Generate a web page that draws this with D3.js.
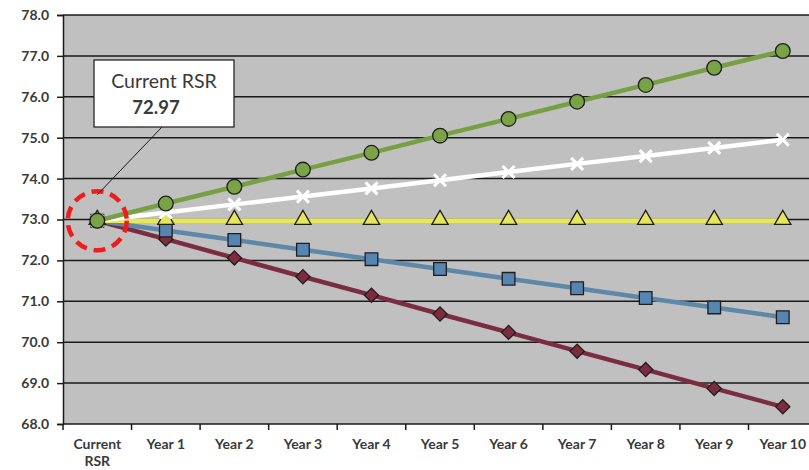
<!DOCTYPE html>
<html>
<head>
<meta charset="utf-8">
<script src="https://cdn.jsdelivr.net/npm/d3@7"></script>
<style>
  html, body { margin: 0; padding: 0; background: #fff; }
  svg { display: block; }
  text { font-family: "Lato", "Open Sans", sans-serif; font-weight: bold; fill: #3a3a3a; }
</style>
</head>
<body>
<svg id="chart" width="809" height="470"></svg>
<script>
// Categories along the x axis
const categories = ["Current RSR", "Year 1", "Year 2", "Year 3", "Year 4", "Year 5",
                    "Year 6", "Year 7", "Year 8", "Year 9", "Year 10"];

// Projected RSR per scenario
const highGrowth  = [72.97, 73.39, 73.80, 74.22, 74.63, 75.05, 75.46, 75.88, 76.29, 76.71, 77.12];
const modGrowth   = [72.97, 73.17, 73.37, 73.56, 73.76, 73.96, 74.16, 74.36, 74.55, 74.75, 74.95];
const flat        = [72.97, 72.97, 72.97, 72.97, 72.97, 72.97, 72.97, 72.97, 72.97, 72.97, 72.97];
const modDecline  = [72.97, 72.73, 72.50, 72.26, 72.03, 71.79, 71.55, 71.32, 71.08, 70.85, 70.61];
const highDecline = [72.97, 72.52, 72.06, 71.60, 71.15, 70.69, 70.24, 69.78, 69.33, 68.87, 68.42];

// Y axis ticks
const yTicks = [68, 69, 70, 71, 72, 73, 74, 75, 76, 77, 78];

const currentValue = 72.97;

const svg = d3.select("#chart");

const plotLeft = 63, plotTop = 15, plotBottom = 424;
const band = 68.55;

const x = d3.scaleBand().domain(categories).range([plotLeft, plotLeft + band * categories.length]).padding(0);
const y = d3.scaleLinear().domain([68, 78]).range([plotBottom, plotTop]);
const cx = c => x(c) + x.bandwidth() / 2;

// Plot background
svg.append("rect")
  .attr("x", plotLeft).attr("y", plotTop)
  .attr("width", 809 - plotLeft).attr("height", plotBottom - plotTop)
  .attr("fill", "#c0c0c0");

// Horizontal gridlines
svg.append("g").selectAll("line").data(yTicks.filter(v => v > 68)).join("line")
  .attr("x1", plotLeft).attr("x2", 809)
  .attr("y1", d => y(d)).attr("y2", d => y(d))
  .attr("stroke", "#1a1a1a").attr("stroke-width", 1.5);

// Y axis
const yAxis = svg.append("g").attr("transform", `translate(${plotLeft},0)`)
  .call(d3.axisLeft(y).tickValues(yTicks).tickFormat(d3.format(".1f")).tickSize(6).tickPadding(8));
yAxis.select(".domain").attr("stroke", "#1a1a1a").attr("stroke-width", 1.5);
yAxis.selectAll(".tick line").attr("stroke", "#1a1a1a").attr("stroke-width", 1.5);
yAxis.selectAll(".tick text").style("font-size", "14px").attr("fill", "#3a3a3a")
  .style("font-family", "Lato, sans-serif").style("font-weight", "bold");

// X axis: ticks at band boundaries
const xg = svg.append("g");
xg.append("line").attr("x1", plotLeft).attr("x2", 809).attr("y1", plotBottom).attr("y2", plotBottom)
  .attr("stroke", "#1a1a1a").attr("stroke-width", 1.5);
xg.selectAll("line.tick").data(categories).join("line").attr("class", "tick")
  .attr("x1", d => x(d)).attr("x2", d => x(d))
  .attr("y1", plotBottom).attr("y2", plotBottom + 6)
  .attr("stroke", "#1a1a1a").attr("stroke-width", 1.5);
xg.selectAll("text").data(categories).join("text")
  .attr("text-anchor", "middle")
  .attr("x", d => cx(d))
  .attr("y", 449)
  .style("font-size", "14px")
  .each(function(d) {
    const parts = d === "Current RSR" ? ["Current", "RSR"] : [d];
    d3.select(this).selectAll("tspan").data(parts).join("tspan")
      .attr("x", cx(d)).attr("dy", (p, i) => i === 0 ? 0 : 17).text(p => p);
  });

// Series definitions
const series = [
  { values: highDecline, line: "#7b2c40", fill: "#7e2b41", marker: "diamond" },
  { values: modDecline,  line: "#5d88a8", fill: "#5585b0", marker: "square" },
  { values: flat,        line: "#e7e75a", fill: "#e6e65c", marker: "triangle" },
  { values: modGrowth,   line: "#ffffff", fill: "#ffffff", marker: "cross" },
  { values: highGrowth,  line: "#77a043", fill: "#79a345", marker: "circle" }
];

const line = d3.line().x((d, i) => cx(categories[i])).y(d => y(d));

series.forEach(s => {
  svg.append("path").datum(s.values)
    .attr("d", line)
    .attr("fill", "none")
    .attr("stroke", s.line)
    .attr("stroke-width", 4.5);
});

const symbolType = {
  circle: d3.symbolCircle, square: d3.symbolSquare,
  triangle: d3.symbolTriangle, diamond: d3.symbolDiamond
};
const symbolSize = { circle: 170, square: 160, triangle: 115, diamond: 140 };

series.forEach(s => {
  const g = svg.append("g");
  s.values.forEach((v, i) => {
    const px = cx(categories[i]), py = y(v);
    if (s.marker === "cross") {
      const r = 6;
      g.append("path")
        .attr("d", `M${px - r},${py - r}L${px + r},${py + r}M${px - r},${py + r}L${px + r},${py - r}`)
        .attr("stroke", "#ffffff").attr("stroke-width", 3).attr("fill", "none");
    } else {
      let sym = d3.symbol().type(symbolType[s.marker]).size(symbolSize[s.marker]);
      let tr = `translate(${px},${py})`;
      if (s.marker === "diamond") {
        sym = d3.symbol().type(d3.symbolSquare).size(100);
        tr += " rotate(45)";
      }
      if (s.marker === "triangle") tr = `translate(${px},${py - 1})`;
      g.append("path").attr("d", sym()).attr("transform", tr)
        .attr("fill", s.fill).attr("stroke", "#1e1e1e").attr("stroke-width", 1.3);
    }
  });
});

// Highlight of the starting value
const sx = cx(categories[0]), sy = y(currentValue);
svg.append("circle").attr("cx", sx).attr("cy", sy).attr("r", 29.5)
  .attr("fill", "none").attr("stroke", "#ee1c1c").attr("stroke-width", 4.5)
  .attr("stroke-dasharray", "12,7");

// Callout with leader line
svg.append("line").attr("x1", 162).attr("y1", 127).attr("x2", sx).attr("y2", sy - 26)
  .attr("stroke", "#1a1a1a").attr("stroke-width", 1);
svg.append("rect").attr("x", 94).attr("y", 60).attr("width", 140).attr("height", 67)
  .attr("fill", "#ffffff").attr("stroke", "#1a1a1a").attr("stroke-width", 1.2);
svg.append("text").attr("x", 164).attr("y", 88).attr("text-anchor", "middle")
  .style("font-size", "19.5px").style("font-weight", "normal").attr("fill", "#222")
  .text("Current RSR");
svg.append("text").attr("x", 156).attr("y", 114).attr("text-anchor", "middle")
  .style("font-size", "18.5px").attr("fill", "#222")
  .text(d3.format(".2f")(currentValue));
</script>
</body>
</html>
